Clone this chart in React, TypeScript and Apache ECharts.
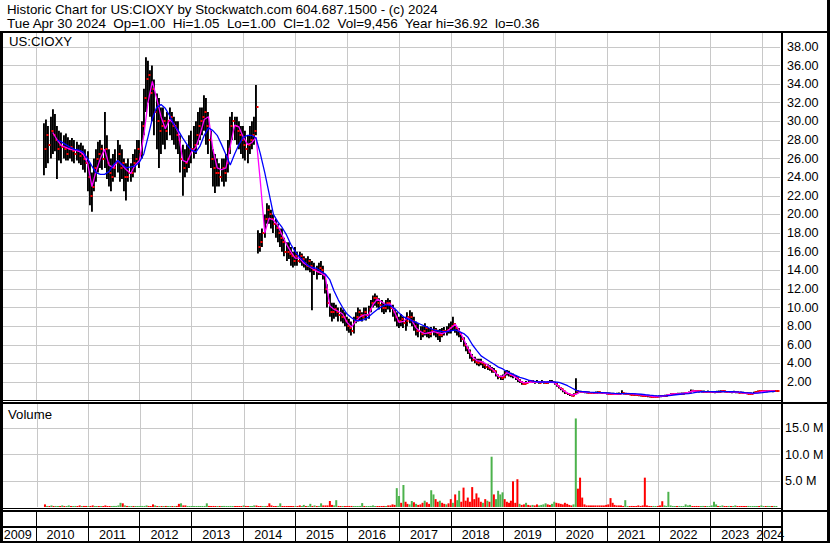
import React, { useEffect, useRef } from "react";
import * as echarts from "echarts";

// ---------------- texts ----------------
const TITLE_LINE_1 = "Historic Chart for US:CIOXY by Stockwatch.com 604.687.1500 - (c) 2024";
const TITLE_LINE_2 =
  "Tue Apr 30 2024  Op=1.00  Hi=1.05  Lo=1.00  Cl=1.02  Vol=9,456  Year hi=36.92  lo=0.36";
const SYMBOL_LABEL = "US:CIOXY";
const VOLUME_LABEL = "Volume";

// year cells of the date strip and year grid lines
const DATE_LABEL_YEARS = [2009, 2010, 2011, 2012, 2013, 2014, 2015, 2016, 2017, 2018, 2019, 2020, 2021, 2022, 2023, 2024];
const GRID_YEARS = [2010, 2011, 2012, 2013, 2014, 2015, 2016, 2017, 2018, 2019, 2020, 2021, 2022, 2023, 2024];

const AXIS_START = Date.UTC(2009, 4, 9);
const AXIS_END = Date.UTC(2024, 4, 4, 12);

const PRICE_MAX = 39.6;
const PRICE_STEP = 2;
const VOLUME_MAX = 19.85; // millions
const VOLUME_STEP = 5;

// ---------------- half-monthly price bars (1st and 16th of each month, from 1 Mar 2010) ----------------
const priceHigh = [
  29.8, 30.2, 29.5, 30.5, 31.3, 30.8, 29.5, 29.0, 28.8, 28.5, 28.7, 28.3, 28.0, 28.2, 28.0, 27.8, 27.5, 27.7, 27.4, 27.0,
  26.8, 25.5, 24.5, 26.0, 27.0, 27.8, 28.0, 27.5, 31.0, 28.5, 27.0, 26.0, 26.5, 27.0, 28.0, 27.5, 27.0, 26.0, 25.5, 26.0, 25.5, 26.5, 27.0, 28.0,
  28.0, 30.0, 33.5, 36.9, 36.5, 35.5, 36.0, 34.5, 33.0, 32.5, 31.5, 31.5, 30.5, 31.0, 31.5, 31.0, 30.5, 30.0, 30.0, 28.5, 27.5, 27.0, 27.5, 28.5,
  29.0, 29.5, 30.0, 31.0, 31.5, 31.5, 32.8, 32.5, 31.0, 29.0, 27.0, 26.5, 26.0, 25.5, 26.0, 26.0, 26.5, 28.0, 30.5, 31.0, 30.5, 30.5, 30.0, 29.5,
  29.5, 29.0, 28.5, 29.5, 30.0, 30.5, 33.9, 18.3, 18.0, 18.5, 20.0, 21.2, 21.0, 20.5, 20.0, 19.5, 19.0, 18.5, 18.5, 17.5, 17.0, 17.0, 16.5, 16.0,
  16.5, 16.0, 16.0, 15.8, 15.5, 15.3, 15.5, 15.2, 15.0, 14.8, 14.5, 14.8, 15.0, 14.5, 13.5, 12.5, 11.5, 10.5, 10.5, 10.3, 10.0, 10.0, 9.8, 9.5,
  9.0, 8.8, 8.5, 9.0, 9.5, 10.0, 9.8, 9.5, 10.0, 10.0, 10.2, 10.8, 11.3, 11.5, 11.3, 11.0, 10.8, 10.5, 10.8, 11.0, 10.8, 10.3, 9.8, 9.5,
  9.0, 9.3, 9.0, 9.0, 9.5, 9.7, 9.5, 9.0, 8.5, 8.3, 8.0, 8.0, 8.3, 8.0, 7.8, 7.9, 8.0, 7.8, 7.6, 7.7, 7.8, 7.9, 8.0, 8.3,
  8.5, 9.0, 8.3, 7.9, 7.8, 7.3, 6.8, 6.2, 5.8, 5.5, 5.0, 4.7, 4.5, 4.5, 4.5, 4.2, 4.0, 3.9, 3.8, 3.6, 3.5, 3.2, 2.8, 2.7,
  2.8, 3.2, 3.3, 3.2, 3.0, 2.9, 2.7, 2.5, 2.3, 2.1, 2.0, 2.1, 2.2, 2.2, 2.2, 2.1, 2.2, 2.1, 2.2, 2.1, 2.0, 2.1, 2.2, 2.2,
  2.0, 1.9, 1.6, 1.4, 1.2, 1.0, 0.8, 0.7, 0.65, 0.8, 2.4, 1.1, 1.05, 1.0, 1.0, 0.95, 0.95, 0.9, 0.9, 0.95, 1.0, 0.95, 0.9, 0.9,
  0.85, 0.85, 0.8, 0.8, 0.78, 0.8, 0.85, 1.1, 0.85, 0.8, 0.78, 0.75, 0.72, 0.7, 0.68, 0.65, 0.62, 0.6, 0.58, 0.55, 0.52, 0.5, 0.52, 0.5,
  0.5, 0.55, 0.55, 0.6, 0.62, 0.7, 0.75, 0.8, 0.78, 0.8, 0.82, 0.85, 0.85, 0.9, 0.95, 1.2, 1.15, 1.1, 1.1, 1.05, 1.05, 1.05, 1.0, 1.05,
  1.0, 1.0, 1.0, 1.05, 1.05, 1.1, 1.15, 1.05, 1.0, 1.0, 1.0, 1.05, 1.0, 0.98, 0.95, 0.92, 0.9, 0.88, 0.85, 0.85, 0.95, 1.0, 1.05, 1.05,
  1.1, 1.1, 1.08, 1.1, 1.1, 1.08, 1.1, 1.05,
];

const priceLow = [
  24.2, 25.0, 25.5, 26.0, 26.5, 26.8, 23.8, 25.8, 25.5, 26.0, 25.8, 25.8, 26.0, 25.7, 25.5, 25.8, 25.5, 25.3, 24.8, 24.5,
  22.5, 21.0, 20.3, 22.5, 23.5, 24.5, 25.0, 24.8, 25.0, 23.8, 23.0, 22.5, 23.5, 24.0, 24.5, 23.5, 23.8, 22.5, 21.5, 23.5, 23.5, 24.0, 24.5, 25.5,
  25.0, 26.0, 28.5, 31.0, 32.0, 30.5, 30.0, 28.5, 27.0, 25.0, 26.5, 27.5, 27.0, 28.0, 28.5, 28.0, 27.5, 27.0, 26.5, 24.5, 22.0, 24.0, 24.5, 25.0,
  25.5, 26.0, 26.5, 27.5, 28.0, 28.5, 29.0, 27.5, 26.5, 25.0, 23.0, 22.3, 23.0, 23.0, 23.5, 23.0, 23.5, 24.5, 26.5, 28.0, 28.0, 27.5, 27.0, 26.5,
  26.0, 25.8, 25.5, 26.5, 27.0, 27.5, 28.5, 15.8, 16.0, 16.5, 17.5, 19.0, 19.0, 18.5, 18.0, 17.5, 17.0, 16.5, 16.0, 15.5, 15.0, 15.2, 14.5, 14.3,
  14.5, 14.5, 14.8, 14.5, 14.3, 14.0, 14.0, 13.8, 9.7, 13.5, 13.0, 13.5, 13.5, 13.0, 11.5, 10.0, 9.0, 8.5, 8.8, 9.0, 8.5, 8.5, 8.3, 8.0,
  7.5, 7.3, 7.0, 7.2, 8.3, 8.5, 8.6, 8.5, 8.8, 8.6, 8.8, 9.5, 10.0, 10.2, 10.0, 9.8, 9.5, 9.3, 9.5, 9.8, 9.5, 9.0, 8.5, 8.0,
  7.8, 8.0, 7.8, 7.5, 8.0, 8.3, 8.0, 7.5, 7.0, 6.8, 6.5, 6.8, 7.0, 6.8, 6.7, 6.8, 7.0, 6.8, 6.5, 6.3, 6.8, 7.0, 7.0, 7.2,
  7.2, 7.5, 7.3, 7.0, 6.8, 6.3, 5.8, 5.3, 5.0, 4.5, 4.2, 4.0, 3.8, 3.7, 3.8, 3.5, 3.4, 3.3, 3.2, 3.0, 3.0, 2.6, 2.3, 2.2,
  2.2, 2.4, 2.7, 2.6, 2.5, 2.4, 2.2, 2.0, 1.9, 1.7, 1.7, 1.8, 1.9, 1.9, 1.9, 1.8, 1.9, 1.8, 1.9, 1.8, 1.8, 1.8, 1.9, 1.9,
  1.7, 1.5, 1.3, 1.1, 0.9, 0.7, 0.6, 0.5, 0.45, 0.5, 0.8, 0.8, 0.85, 0.85, 0.8, 0.8, 0.8, 0.75, 0.75, 0.8, 0.8, 0.8, 0.75, 0.75,
  0.7, 0.7, 0.68, 0.65, 0.65, 0.65, 0.68, 0.7, 0.68, 0.65, 0.62, 0.6, 0.58, 0.55, 0.52, 0.5, 0.48, 0.45, 0.42, 0.4, 0.38, 0.36, 0.38, 0.37,
  0.38, 0.4, 0.42, 0.45, 0.48, 0.52, 0.6, 0.62, 0.62, 0.65, 0.66, 0.68, 0.7, 0.72, 0.78, 0.9, 0.95, 0.95, 0.92, 0.9, 0.9, 0.88, 0.85, 0.88,
  0.85, 0.85, 0.82, 0.85, 0.88, 0.9, 0.9, 0.88, 0.85, 0.85, 0.82, 0.85, 0.82, 0.8, 0.78, 0.75, 0.72, 0.7, 0.68, 0.7, 0.75, 0.85, 0.88, 0.9,
  0.92, 0.9, 0.92, 0.95, 0.95, 0.95, 0.96, 1.0,
];

const priceClose = [
  27.0, 28.5, 27.5, 29.0, 28.5, 28.0, 27.0, 27.5, 27.2, 27.0, 26.5, 27.0, 27.2, 26.8, 26.5, 26.8, 26.3, 26.5, 26.0, 25.5,
  24.0, 22.0, 23.0, 25.0, 26.0, 26.5, 27.0, 26.0, 27.0, 25.5, 24.5, 24.0, 25.0, 25.5, 26.5, 25.0, 25.5, 24.0, 24.0, 24.5, 24.5, 25.5, 26.0, 27.0,
  26.5, 29.5, 32.5, 34.5, 35.0, 33.0, 33.5, 31.0, 30.0, 29.0, 29.5, 30.0, 29.0, 30.0, 30.5, 29.5, 29.5, 28.5, 28.0, 26.0, 25.0, 25.5, 26.0, 27.0,
  27.0, 27.5, 28.5, 29.5, 30.0, 30.5, 31.0, 29.5, 28.0, 26.0, 25.0, 24.5, 24.5, 24.0, 25.0, 24.5, 25.5, 27.0, 29.5, 30.0, 29.5, 29.0, 28.5, 28.0,
  27.5, 27.0, 27.5, 28.0, 28.5, 29.0, 31.5, 16.5, 17.0, 18.0, 19.5, 20.5, 20.0, 19.5, 19.0, 18.5, 18.0, 17.5, 17.0, 16.0, 16.0, 15.8, 15.5, 15.0,
  15.5, 15.0, 15.5, 15.2, 14.8, 14.5, 15.0, 14.5, 14.0, 14.0, 13.8, 14.2, 14.0, 13.5, 12.0, 10.5, 9.5, 9.5, 9.8, 9.5, 9.2, 9.0, 9.0, 8.5,
  8.0, 7.8, 7.5, 8.5, 9.0, 9.5, 9.2, 9.0, 9.5, 9.2, 9.8, 10.5, 11.0, 11.0, 10.5, 10.3, 10.0, 10.0, 10.5, 10.5, 10.0, 9.5, 9.0, 8.5,
  8.5, 8.8, 8.3, 8.5, 9.0, 9.0, 8.5, 8.0, 7.5, 7.5, 7.2, 7.5, 7.8, 7.3, 7.2, 7.5, 7.6, 7.3, 7.0, 7.0, 7.5, 7.5, 7.6, 7.8,
  8.0, 8.2, 7.8, 7.5, 7.2, 6.6, 6.0, 5.6, 5.2, 4.8, 4.4, 4.2, 4.0, 4.2, 4.0, 3.8, 3.6, 3.5, 3.4, 3.2, 3.2, 2.8, 2.5, 2.4,
  2.5, 3.0, 3.0, 2.8, 2.7, 2.6, 2.4, 2.2, 2.0, 1.8, 1.8, 1.9, 2.0, 2.1, 2.0, 2.0, 2.0, 1.9, 2.0, 1.9, 1.9, 2.0, 2.0, 2.0,
  1.8, 1.6, 1.4, 1.2, 1.0, 0.8, 0.7, 0.55, 0.5, 0.7, 1.0, 0.95, 0.95, 0.9, 0.9, 0.85, 0.85, 0.8, 0.8, 0.85, 0.9, 0.85, 0.8, 0.8,
  0.75, 0.75, 0.72, 0.7, 0.7, 0.72, 0.75, 0.8, 0.72, 0.7, 0.68, 0.65, 0.62, 0.6, 0.58, 0.55, 0.52, 0.5, 0.48, 0.45, 0.42, 0.4, 0.42, 0.42,
  0.45, 0.48, 0.5, 0.52, 0.55, 0.62, 0.68, 0.7, 0.7, 0.72, 0.75, 0.75, 0.78, 0.8, 0.85, 1.05, 1.05, 1.0, 1.0, 0.98, 0.95, 0.95, 0.92, 0.95,
  0.92, 0.9, 0.9, 0.95, 0.95, 1.0, 1.0, 0.95, 0.92, 0.9, 0.9, 0.92, 0.88, 0.85, 0.82, 0.8, 0.78, 0.75, 0.72, 0.75, 0.88, 0.95, 1.0, 1.0,
  1.0, 1.02, 1.0, 1.05, 1.02, 1.0, 1.03, 1.02,
];

// volume in millions per half-month bar, and its colour (g = up, r = down)
const volumeM = [
  0.5, 0.2, 0.1, 0.3, 0.1, 0.2, 0.1, 0.1, 0.3, 0.1, 0.1, 0.3, 0.1, 0.1, 0.2, 0.1, 0.3, 0.1, 0.2, 0.2,
  0.1, 0.2, 0.3, 0.1, 0.1, 0.1, 0.1, 0.1, 0.3, 0.1, 0.1, 0.1, 0.2, 0.2, 0.3, 0.8, 0.7, 0.3, 0.2, 0.1, 0.1, 0.1, 0.1, 0.1,
  0.1, 0.2, 0.2, 0.3, 0.2, 0.1, 0.5, 0.3, 0.1, 0.1, 0.1, 0.1, 0.2, 0.1, 0.1, 0.1, 0.1, 0.2, 0.6, 0.7, 0.3, 0.3, 0.1, 0.1,
  0.1, 0.1, 0.1, 0.2, 0.1, 0.1, 0.2, 0.7, 0.2, 0.1, 0.2, 0.1, 0.1, 0.1, 0.1, 0.2, 0.1, 0.1, 0.2, 0.1, 0.1, 0.1, 0.1, 0.1,
  0.3, 0.2, 0.1, 0.1, 0.1, 0.3, 0.3, 0.1, 0.2, 0.1, 0.1, 0.2, 0.7, 0.3, 0.1, 0.1, 0.2, 0.7, 0.1, 0.1, 0.1, 0.1, 0.1, 0.1,
  0.1, 0.1, 0.3, 0.1, 0.4, 0.1, 0.2, 0.6, 0.2, 0.3, 0.1, 0.2, 0.7, 0.3, 0.3, 0.3, 1.15, 0.4, 0.3, 1.3, 0.2, 0.1, 0.1, 0.1,
  0.1, 0.2, 0.2, 0.1, 0.1, 0.1, 0.2, 0.75, 0.1, 0.1, 0.1, 0.2, 0.3, 0.1, 0.1, 0.1, 0.1, 0.2, 0.1, 0.3, 0.3, 0.5, 0.4, 3.6,
  2.1, 0.8, 4.2, 1.0, 0.6, 0.5, 1.15, 0.9, 0.6, 0.4, 0.5, 0.8, 1.2, 0.9, 0.6, 3.2, 2.4, 1.5, 1.0, 1.2, 0.8, 0.6, 0.5, 0.7,
  1.5, 0.8, 2.4, 1.3, 3.1, 1.0, 3.7, 1.2, 1.8, 1.0, 3.8, 1.5, 2.6, 1.8, 1.0, 0.8, 1.5, 1.2, 1.0, 9.6, 2.4, 1.5, 3.1, 2.4,
  2.8, 1.5, 1.0, 0.8, 1.2, 4.9, 0.8, 5.3, 0.6, 0.4, 0.5, 0.8, 0.4, 0.3, 0.4, 0.3, 0.5, 0.3, 0.4, 0.5, 0.7, 0.5, 0.4, 0.6,
  1.0, 0.8, 0.7, 0.6, 0.5, 0.8, 0.6, 0.4, 0.3, 0.5, 16.9, 3.5, 5.6, 1.8, 0.5, 0.3, 0.3, 0.3, 0.3, 0.3, 0.3, 0.3, 0.3, 0.3,
  0.4, 0.5, 1.7, 0.8, 0.4, 0.3, 0.3, 0.3, 0.2, 1.3, 0.2, 0.1, 0.2, 0.1, 0.2, 0.3, 0.2, 0.3, 5.6, 0.3, 0.2, 0.1, 0.2, 0.1,
  0.2, 0.3, 1.1, 0.3, 0.2, 2.9, 0.3, 0.2, 0.1, 0.1, 0.2, 0.1, 0.1, 0.5, 0.3, 0.4, 0.1, 0.1, 0.2, 0.1, 0.1, 0.2, 0.1, 0.1,
  0.1, 0.3, 1.0, 0.5, 0.1, 0.2, 0.3, 0.1, 0.1, 0.2, 0.1, 0.1, 0.3, 0.1, 0.1, 0.1, 0.1, 0.1, 0.2, 0.1, 0.1, 0.1, 0.1, 0.1,
  0.3, 0.1, 0.1, 0.2, 0.1, 0.1, 0.2, 0.1,
];

const volumeDir = [
  "rgrgrggrgrggrggrrgrr",
  "grrggrgrrrrgggggrgrggrgg",
  "ggggrrrgrgrgrggrgrrgrrgg",
  "ggggggggrrrrgrggggggrrrr",
  "grrgggrrrggrrrrrggrrrrrr",
  "grrggrggrgrggrrrrrggrrgr",
  "rrrgggggrgggggrrrrgrrrrg",
  "grgrrggrgrrrgrrggrrgrrgr",
  "rgrggrrrrrrrrrrgrgrgrggg",
  "grrrrrrrgrrgrrgrrggggrrg",
  "grrrrrrrrggrrrrrrrrrrrrr",
  "rrrrrrrrrggrrrrrrrrrrrgg",
  "rrrggggggrggggggrrrrggrg",
  "ggggrggrrgrggrrrrrgggggr",
  "ggrggrgg",
].join("");

// ---------------- moving averages, monthly (1st of month, from Mar 2010) ----------------
const maShort = [
  null, null, 28.8, 28.0, 27.4, 27.2, 27.0, 26.9, 26.8, 26.5,
  25.5, 23.0, 24.6, 26.0, 27.0, 25.3, 25.0, 25.8, 25.3, 24.8, 24.4, 25.3,
  25.8, 28.5, 32.0, 34.3, 32.5, 30.5, 29.2, 30.2, 29.7, 28.8, 25.8, 25.6,
  26.7, 27.2, 28.5, 30.2, 30.5, 27.0, 25.0, 24.8, 25.0, 27.3, 29.6, 29.4,
  28.3, 27.5, 27.7, 28.3, 23.5, 18.0, 19.6, 19.4, 18.8, 17.8, 16.8, 16.0,
  15.3, 15.3, 14.8, 14.5, 14.2, 13.9, 13.7, 13.4, 10.2, 9.8, 9.6, 9.3,
  8.4, 7.9, 8.5, 9.0, 9.2, 9.2, 10.3, 10.9, 10.6, 10.3, 10.4, 9.5,
  8.4, 8.5, 8.9, 8.6, 7.8, 7.4, 7.2, 7.3, 7.4, 7.3, 7.2, 7.4,
  7.8, 8.2, 7.5, 6.6, 5.6, 4.7, 4.3, 4.2, 4.0, 3.6, 3.2, 2.6,
  2.6, 3.0, 2.8, 2.5, 2.1, 1.9, 1.95, 2.0, 2.0, 2.0, 2.0, 2.0,
  1.9, 1.5, 1.1, 0.8, 0.6, 0.7, 0.95, 0.9, 0.85, 0.82, 0.85, 0.82,
  0.76, 0.74, 0.71, 0.72, 0.75, 0.78, 0.72, 0.66, 0.61, 0.56, 0.5, 0.43,
  0.43, 0.49, 0.58, 0.69, 0.72, 0.75, 0.79, 0.88, 1.05, 1.02, 0.98, 0.95,
  0.93, 0.92, 0.97, 1.0, 0.95, 0.91, 0.9, 0.87, 0.81, 0.77, 0.74, 0.86,
  0.98, 1.01, 1.03, 1.02,
];

const maLong = [
  null, null, null, 28.0, 27.8, 27.5, 27.2, 27.0, 26.9, 26.7,
  26.0, 25.2, 24.5, 24.3, 24.3, 24.6, 25.3, 25.8, 25.4, 25.0, 25.1, 25.2,
  25.6, 26.5, 28.3, 30.3, 31.5, 31.8, 31.4, 30.6, 29.6, 29.0, 28.2, 27.5,
  26.9, 26.7, 27.3, 28.5, 29.3, 29.0, 28.5, 27.5, 26.4, 25.3, 26.5, 27.5,
  28.3, 28.5, 28.5, 28.2, 26.5, 24.5, 22.3, 20.0, 19.2, 18.6, 17.8, 16.8,
  16.0, 15.4, 15.0, 14.5, 14.3, 14.2, 13.9, 13.6, 13.0, 11.8, 10.8, 10.0,
  9.3, 8.9, 8.6, 8.6, 8.7, 9.0, 9.4, 9.8, 10.1, 10.3, 10.2, 9.9,
  9.4, 9.0, 8.8, 8.6, 8.4, 8.2, 8.0, 7.8, 7.6, 7.5, 7.4, 7.4,
  7.5, 7.6, 7.4, 7.2, 6.8, 6.0, 5.4, 4.8, 4.5, 4.2, 3.9, 3.6,
  3.4, 3.1, 2.9, 2.7, 2.5, 2.35, 2.2, 2.1, 2.0, 2.0, 2.0, 2.0,
  2.0, 1.95, 1.8, 1.6, 1.35, 1.1, 1.0, 0.95, 0.9, 0.88, 0.86, 0.85,
  0.83, 0.8, 0.78, 0.76, 0.76, 0.76, 0.75, 0.72, 0.68, 0.63, 0.58, 0.54,
  0.5, 0.5, 0.52, 0.57, 0.63, 0.68, 0.72, 0.76, 0.83, 0.9, 0.95, 0.97,
  0.96, 0.95, 0.95, 0.96, 0.96, 0.95, 0.93, 0.9, 0.86, 0.83, 0.8, 0.8,
  0.85, 0.92, 0.97, 1.0,
];

// ---------------- helpers ----------------
const FONT = '"Liberation Sans", Arial, sans-serif';
const barDate = (i: number) => Date.UTC(2010, 2 + Math.floor(i / 2), i % 2 === 0 ? 1 : 16);
const monthDate = (m: number) => Date.UTC(2010, 2 + m, 1);

const nBars = Math.min(priceHigh.length, priceLow.length, priceClose.length);
const priceData = Array.from({ length: nBars }, (_, i) => [barDate(i), priceHigh[i], priceLow[i], priceClose[i]]);
const volumeData = volumeM.map((v, i) => ({
  value: [barDate(i), v],
  itemStyle: { color: volumeDir[i] === "r" ? "#ff0000" : "#4cb24c" },
}));
const lineData = (arr: (number | null)[]) =>
  arr.map((v, m) => (v == null ? null : [monthDate(m), v])).filter((d) => d !== null);

const yearLineItem = (params: any, api: any, color: string) => {
  const cs = params.coordSys;
  const x = Math.round(api.coord([api.value(0), 0])[0]) + 0.5;
  return {
    type: "line",
    shape: { x1: x, y1: cs.y, x2: x, y2: cs.y + cs.height },
    style: { stroke: color, lineWidth: 1 },
  };
};

function buildOption() {
  const rect = (x: number, y: number, w: number, h: number) => ({
    type: "rect",
    silent: true,
    z: 100,
    shape: { x, y, width: w, height: h },
    style: { fill: "#000" },
  });
  const text = (t: string, x: number, y: number, size: number, color: string) => ({
    type: "text",
    silent: true,
    z: 100,
    style: {
      text: t,
      x,
      y,
      fill: color,
      font: `${size}px ${FONT}`,
      textAlign: "left",
      textVerticalAlign: "middle",
      align: "left",
      verticalAlign: "middle",
    },
  });

  return {
    animation: false,
    backgroundColor: "#ffffff",
    grid: [
      { left: 2, top: 32, width: 778, height: 368.6, outerBoundsMode: "none" },
      { left: 2, top: 403, width: 778, height: 104, outerBoundsMode: "none" },
      { left: 2, top: 512, width: 778, height: 29, outerBoundsMode: "none" },
    ],
    xAxis: [0, 1, 2].map((g) => ({
      type: "time",
      gridIndex: g,
      min: AXIS_START,
      max: AXIS_END,
      show: false,
    })),
    yAxis: [
      {
        type: "value",
        gridIndex: 0,
        position: "right",
        min: 0,
        max: PRICE_MAX,
        interval: PRICE_STEP,
        axisLine: { show: false },
        axisTick: { show: false },
        axisLabel: {
          margin: 7,
          color: "#000",
          fontSize: 12.6,
          fontFamily: FONT,
          showMinLabel: false,
          showMaxLabel: false,
          formatter: (v: number) => (v > 0 && v < 39 ? v.toFixed(2) : ""),
        },
        splitLine: { show: true, showMinLine: false, showMaxLine: false, lineStyle: { color: "#c8c8c8", width: 1 } },
      },
      {
        type: "value",
        gridIndex: 1,
        position: "right",
        min: 0,
        max: VOLUME_MAX,
        interval: VOLUME_STEP,
        axisLine: { show: false },
        axisTick: { show: false },
        axisLabel: {
          margin: 5,
          color: "#000",
          fontSize: 12.6,
          fontFamily: FONT,
          showMinLabel: false,
          showMaxLabel: false,
          formatter: (v: number) => (v > 0 && v < 19 ? v.toFixed(1) + " M" : ""),
        },
        splitLine: { show: true, showMinLine: false, showMaxLine: false, lineStyle: { color: "#c8c8c8", width: 1 } },
      },
      { type: "value", gridIndex: 2, min: 0, max: 1, show: false },
    ],
    graphic: [
      text(TITLE_LINE_1, 7, 9.5, 13.3, "#000"),
      text(TITLE_LINE_2, 7, 23.3, 13.45, "#000"),
      text(SYMBOL_LABEL, 9, 41, 13.2, "#000"),
      text(VOLUME_LABEL, 8, 414, 13.2, "#000"),
      rect(0, 31, 830, 2),
      rect(0, 31, 3, 512),
      rect(827, 0, 3, 543),
      rect(781, 31, 2, 512),
      rect(0, 400, 781, 1),
      rect(0, 402, 830, 2),
      rect(0, 508, 781, 1),
      rect(0, 510, 830, 2),
      rect(0, 526, 781, 2),
      rect(0, 541, 830, 2),
    ],
    series: [
      {
        type: "custom",
        name: "priceYearGrid",
        xAxisIndex: 0,
        yAxisIndex: 0,
        z: 1,
        silent: true,
        data: GRID_YEARS.map((y) => [Date.UTC(y, 0, 1), 0]),
        renderItem: (p: any, api: any) => yearLineItem(p, api, "#c8c8c8"),
      },
      {
        type: "custom",
        name: "volumeYearGrid",
        xAxisIndex: 1,
        yAxisIndex: 1,
        z: 1,
        silent: true,
        data: GRID_YEARS.map((y) => [Date.UTC(y, 0, 1), 0]),
        renderItem: (p: any, api: any) => yearLineItem(p, api, "#c8c8c8"),
      },
      {
        type: "custom",
        name: "priceBars",
        xAxisIndex: 0,
        yAxisIndex: 0,
        z: 3,
        silent: true,
        clip: true,
        encode: { x: 0, y: [1, 2, 3] },
        data: priceData,
        renderItem: (params: any, api: any) => {
          const t = api.value(0);
          const top = api.coord([t, api.value(1)]);
          const bot = api.coord([t, api.value(2)]);
          let h = bot[1] - top[1];
          let y = top[1];
          if (h < 2) {
            y -= (2 - h) / 2;
            h = 2;
          }
          return {
            type: "rect",
            shape: { x: Math.round(top[0]) - 1, y, width: 1.9, height: h },
            style: { fill: "#000" },
          };
        },
      },
      {
        type: "custom",
        name: "closeTicks",
        xAxisIndex: 0,
        yAxisIndex: 0,
        z: 4,
        silent: true,
        clip: true,
        encode: { x: 0, y: 3 },
        data: priceData,
        renderItem: (params: any, api: any) => {
          const c = api.coord([api.value(0), api.value(3)]);
          return {
            type: "rect",
            shape: { x: Math.round(c[0]) + 0.5, y: Math.round(c[1]) - 1, width: 2, height: 2 },
            style: { fill: "#ff0000" },
          };
        },
      },
      {
        type: "line",
        name: "maShort",
        xAxisIndex: 0,
        yAxisIndex: 0,
        z: 5,
        silent: true,
        symbol: "none",
        showSymbol: false,
        data: lineData(maShort),
        lineStyle: { color: "#ff00ff", width: 1.3 },
      },
      {
        type: "line",
        name: "maLong",
        xAxisIndex: 0,
        yAxisIndex: 0,
        z: 6,
        silent: true,
        symbol: "none",
        showSymbol: false,
        data: lineData(maLong),
        lineStyle: { color: "#0000ff", width: 1.3 },
      },
      {
        type: "bar",
        name: "volume",
        xAxisIndex: 1,
        yAxisIndex: 1,
        z: 3,
        silent: true,
        barWidth: 2,
        barMinHeight: 1,
        data: volumeData,
      },
      {
        type: "custom",
        name: "dateStrip",
        xAxisIndex: 2,
        yAxisIndex: 2,
        z: 3,
        silent: true,
        clip: false,
        data: DATE_LABEL_YEARS.map((y) => [Date.UTC(y, 0, 1), Date.UTC(y + 1, 0, 1), y]),
        renderItem: (params: any, api: any) => {
          const cs = params.coordSys;
          const s = api.coord([api.value(0), 0])[0];
          const e = api.coord([api.value(1), 0])[0];
          const x1 = Math.max(s, cs.x);
          const x2 = Math.min(e, cs.x + cs.width);
          const children: any[] = [];
          if (s > cs.x + 1) {
            const xs = Math.round(s) + 0.5;
            children.push({
              type: "line",
              shape: { x1: xs, y1: cs.y, x2: xs, y2: cs.y + cs.height },
              style: { stroke: "#000", lineWidth: 1 },
            });
          }
          children.push({
            type: "text",
            style: {
              text: String(api.value(2)),
              x: (x1 + x2) / 2 - 1,
              y: cs.y + 22.5,
              fill: "#000",
              font: `12.6px ${FONT}`,
              textAlign: "center",
              textVerticalAlign: "middle",
              align: "center",
              verticalAlign: "middle",
            },
          });
          return { type: "group", children };
        },
      },
    ],
  };
}

export default function App() {
  const ref = useRef<HTMLDivElement>(null);
  useEffect(() => {
    if (!ref.current) return;
    const chart = echarts.init(ref.current, null, { renderer: "svg" });
    chart.setOption(buildOption() as any);
    return () => chart.dispose();
  }, []);
  return (
    <div
      ref={ref}
      style={{ position: "absolute", left: 0, top: 0, width: 830, height: 543, background: "#fff" }}
    />
  );
}
